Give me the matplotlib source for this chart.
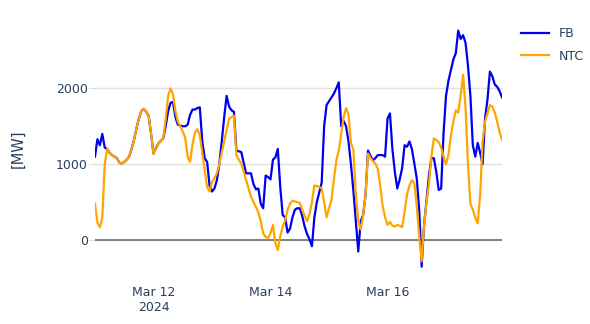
import matplotlib
matplotlib.use("Agg")
import matplotlib.pyplot as plt
import numpy as np
import pandas as pd

# hourly values, Mar 11 00:00 .. Mar 17 23:00 2024
times = pd.date_range("2024-03-11 00:00", periods=168, freq="h")

fb = [1100, 1330, 1250, 1400, 1220, 1200, 1150, 1120, 1100, 1080, 1020, 1010,
      1030, 1060, 1100, 1200, 1320, 1470, 1600, 1700, 1730, 1690, 1640, 1400,
      1140, 1210, 1270, 1310, 1340, 1500, 1700, 1810, 1820, 1620, 1520, 1510,
      1500, 1500, 1520, 1650, 1720, 1720, 1740, 1750, 1300, 1080, 1030, 720,
      640, 680, 790, 1000, 1300, 1620, 1900, 1760, 1710, 1690, 1180, 1170,
      1160, 1020, 880, 880, 880, 740, 670, 680, 480, 420, 850, 830,
      800, 1060, 1090, 1200, 700, 330, 300, 100, 150, 300, 400, 420,
      420, 320, 180, 80, 10, -80, 300, 500, 630, 760, 1500, 1780,
      1830, 1880, 1930, 2000, 2080, 1500, 1570, 1500, 1300, 1000, 650, 250,
      -150, 250, 330, 600, 1180, 1110, 1050, 1080, 1120, 1120, 1120, 1100,
      1600, 1670, 1200, 900, 680, 800, 950, 1250, 1230, 1300, 1200, 1010,
      810, 400, -350, 200, 520, 850, 1080, 1080, 900, 660, 680, 1420,
      1900, 2100, 2240, 2380, 2460, 2760, 2650, 2700, 2600, 2300, 1900, 1250,
      1100, 1280, 1150, 1000, 1600, 1850, 2220, 2160, 2050, 2020, 1960, 1880]

ntc = [480, 230, 170, 300, 1000, 1200, 1150, 1120, 1100, 1080, 1020, 1010,
       1030, 1060, 1100, 1200, 1320, 1470, 1600, 1700, 1730, 1690, 1640, 1400,
       1140, 1200, 1270, 1310, 1340, 1600, 1900, 2000, 1920, 1700, 1560, 1500,
       1430, 1350, 1100, 1030, 1260, 1420, 1460, 1380, 1150, 930, 700, 640,
       760, 820, 880, 1000, 1150, 1300, 1450, 1600, 1620, 1640, 1120, 1060,
       1010, 900, 790, 680, 570, 500, 440, 370, 250, 90, 40, 30,
       90, 200, -40, -130, 50, 180, 260, 400, 480, 520, 510, 500,
       490, 400, 320, 250, 340, 500, 720, 710, 700, 680, 500, 300,
       420, 530, 800, 1050, 1180, 1400, 1620, 1740, 1650, 1280, 1190, 600,
       250, 140, 330, 600, 1140, 1080, 1040, 1010, 940, 720, 450, 300,
       200, 240, 190, 180, 200, 190, 170, 370, 600, 720, 790, 750,
       450, 50, -280, 200, 500, 750, 1100, 1340, 1320, 1290, 1220, 1100,
       1000, 1130, 1380, 1560, 1710, 1680, 1900, 2180, 1750, 1000, 480, 400,
       300, 220, 600, 1300, 1560, 1670, 1780, 1760, 1680, 1560, 1420, 1320]

xticks = pd.to_datetime(["2024-03-12", "2024-03-14", "2024-03-16"])
xticklabels = ["Mar 12\n2024", "Mar 14", "Mar 16"]
yticks = [0, 1000, 2000]

txt = "#2a3f5f"

fig = plt.figure(figsize=(5.9, 3.24), dpi=100)
ax = fig.add_axes([0.161, 0.13, 0.69, 0.82])

ax.plot(times, fb, color="#0000f0", lw=1.6, label="FB")
ax.plot(times, ntc, color="#ffa500", lw=1.6, label="NTC")

ax.set_xlim(times[0], times[-1])
ax.set_ylim(-550, 2950)
ax.set_yticks(yticks)
ax.set_xticks(xticks)
ax.set_xticklabels(xticklabels)
ax.grid(axis="y", color="#e0e0e0", lw=1)
ax.axhline(0, color="#777777", lw=1.3, zorder=1)
ax.set_axisbelow(True)
for s in ax.spines.values():
    s.set_visible(False)
ax.tick_params(axis="y", length=4, color="#e0e0e0", labelcolor=txt, labelsize=9, pad=1)
ax.tick_params(axis="x", length=0, labelcolor=txt, labelsize=9, pad=3)
ax.set_ylabel("[MW]", color=txt, fontsize=10.5, labelpad=22)

ax.legend(loc="upper left", bbox_to_anchor=(1.02, 1.0), frameon=False,
          fontsize=9, labelcolor=txt, handlelength=2.2, labelspacing=0.75)

plt.savefig("out.png", dpi=100)
